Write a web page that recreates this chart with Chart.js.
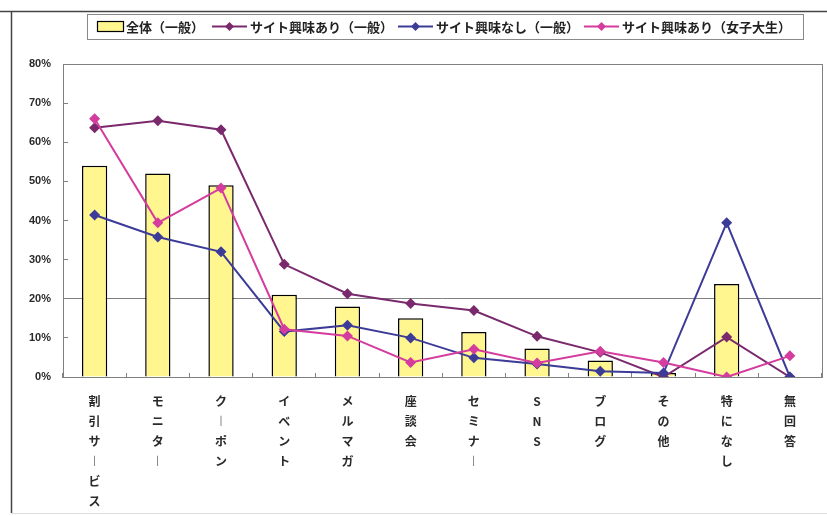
<!DOCTYPE html>
<html>
<head>
<meta charset="utf-8">
<script src="https://cdn.jsdelivr.net/npm/chart.js@4.4.1/dist/chart.umd.min.js"></script>
<style>
    html, body { margin: 0; padding: 0; background: #fff; }
    #wrap { width: 827px; height: 516px; }
</style>
</head>
<body>
<div id="wrap"><canvas id="chart"></canvas></div>
<script>
var categories = ['割引サービス', 'モニター', 'クーポン', 'イベント', 'メルマガ', '座談会', 'セミナー', 'SNS', 'ブログ', 'その他', '特になし', '無回答'];
var seriesNames = ['全体（一般）', 'サイト興味あり（一般）', 'サイト興味なし（一般）', 'サイト興味あり（女子大生）'];
var overall = [54, 52, 49, 21, 18, 15, 11.5, 7.3, 4.2, 1, 23.8, 0];
var interestYes = [63.7, 65.5, 63.2, 28.8, 21.3, 18.8, 17, 10.4, 6.3, 0, 10.2, 0];
var interestNo = [41.4, 35.8, 32, 11.6, 13.2, 10, 4.9, 3.3, 1.5, 1, 39.4, 0];
var students = [66, 39.4, 48.3, 12.2, 10.5, 3.7, 7.1, 3.6, 6.6, 3.7, 0, 5.4];
var yTicks = [0, 10, 20, 30, 40, 50, 60, 70, 80];

var barFill = '#fff68f';
var purple = '#7a2a6c';
var blue = '#3c3c98';
var pink = '#d43c9e';
var jpFont = "'Noto Sans CJK JP', sans-serif";

// page frame (top and left rules of the original figure)
var framePlugin = {
    id: 'frame',
    beforeDraw: function(chart) {
        var ctx = chart.ctx;
        ctx.save();
        ctx.fillStyle = '#fff';
        ctx.fillRect(0, 0, chart.width, chart.height);
        ctx.strokeStyle = '#444';
        ctx.lineWidth = 1.5;
        ctx.beginPath();
        ctx.moveTo(0, 11.5);
        ctx.lineTo(chart.width, 11.5);
        ctx.moveTo(11.5, 11.5);
        ctx.lineTo(11.5, 513);
        ctx.stroke();
        ctx.strokeStyle = '#ddd';
        ctx.lineWidth = 1;
        ctx.beginPath();
        ctx.moveTo(11.5, 513.5);
        ctx.lineTo(chart.width, 513.5);
        ctx.stroke();
        ctx.restore();
    },
    beforeDatasetsDraw: function(chart) {
        var a = chart.chartArea;
        var ctx = chart.ctx;
        ctx.save();
        ctx.strokeStyle = '#808080';
        ctx.lineWidth = 1;
        ctx.strokeRect(Math.round(a.left) + 0.5, Math.round(a.top) + 0.5, Math.round(a.right - a.left), Math.round(a.bottom - a.top));
        ctx.restore();
    }
};

function diamond(ctx, x, y, r, color) {
    ctx.fillStyle = color;
    ctx.beginPath();
    ctx.moveTo(x - r, y);
    ctx.lineTo(x, y - r);
    ctx.lineTo(x + r, y);
    ctx.lineTo(x, y + r);
    ctx.closePath();
    ctx.fill();
}

// boxed legend like the spreadsheet one
var legendPlugin = {
    id: 'boxLegend',
    afterDraw: function(chart) {
        var ctx = chart.ctx;
        var starts = [97, 212, 398, 584];
        var cy = 26.5;
        ctx.save();
        ctx.strokeStyle = '#888';
        ctx.lineWidth = 1;
        ctx.fillStyle = '#fff';
        ctx.fillRect(87.5, 14.5, 716, 25);
        ctx.strokeRect(87.5, 14.5, 716, 25);
        ctx.font = 'bold 13px ' + jpFont;
        ctx.textBaseline = 'middle';
        chart.data.datasets.forEach(function(ds, i) {
            var x = starts[i];
            if (ds.type === 'bar') {
                ctx.fillStyle = ds.backgroundColor;
                ctx.fillRect(x + 0.5, cy - 5, 26, 10);
                ctx.strokeStyle = '#000';
                ctx.lineWidth = 1.2;
                ctx.strokeRect(x + 0.5, cy - 5, 26, 10);
                ctx.fillStyle = '#222';
                ctx.fillText(ds.label, x + 29, cy + 1);
            } else {
                ctx.strokeStyle = ds.borderColor;
                ctx.lineWidth = 2;
                ctx.beginPath();
                ctx.moveTo(x, cy);
                ctx.lineTo(x + 35, cy);
                ctx.stroke();
                diamond(ctx, x + 17.5, cy, 4.5, ds.borderColor);
                ctx.fillStyle = '#222';
                ctx.fillText(ds.label, x + 38, cy + 1);
            }
        });
        ctx.restore();
    }
};

function lineSet(label, data, color, order) {
    return {
        type: 'line',
        label: label,
        data: data,
        borderColor: color,
        backgroundColor: color,
        borderWidth: 2,
        pointStyle: 'rectRot',
        pointRadius: 5.5,
        pointBackgroundColor: color,
        pointBorderColor: color,
        pointBorderWidth: 0,
        tension: 0,
        order: order
    };
}

var ctx = document.getElementById('chart').getContext('2d');
var chart = new Chart(ctx, {
    type: 'bar',
    data: {
        labels: categories,
        datasets: [
            {
                type: 'bar',
                label: seriesNames[0],
                data: overall,
                backgroundColor: barFill,
                borderColor: '#000',
                borderWidth: 1.5,
                barPercentage: 0.8,
                categoryPercentage: 0.5,
                order: 5
            },
            lineSet(seriesNames[1], interestYes, purple, 3),
            lineSet(seriesNames[2], interestNo, blue, 2),
            lineSet(seriesNames[3], students, pink, 1)
        ]
    },
    options: {
        responsive: true,
        maintainAspectRatio: false,
        animation: false,
        layout: { padding: { left: 12, right: 4, top: 64, bottom: 0 } },
        plugins: {
            legend: { display: false },
            tooltip: { enabled: false }
        },
        scales: {
            x: {
                afterFit: function(scale) { scale.height = 139; },
                grid: {
                    offset: true,
                    drawOnChartArea: false,
                    tickLength: -4,
                    tickColor: '#808080'
                },
                border: { color: '#808080' },
                ticks: {
                    autoSkip: false,
                    maxRotation: 0,
                    padding: 18,
                    color: '#2a2a2a',
                    font: { family: jpFont, size: 12, weight: 'bold', lineHeight: '20px' },
                    callback: function(value, index) {
                        return categories[index].split('').map(function(c) { return c === 'ー' ? '︱' : c; });
                    }
                }
            },
            y: {
                min: 0,
                max: 80,
                afterFit: function(scale) { scale.width = 51; },
                afterBuildTicks: function(scale) {
                    scale.ticks = yTicks.map(function(v) { return { value: v }; });
                },
                grid: {
                    tickLength: -5,
                    tickColor: '#808080',
                    color: function(c) { return c.tick && c.tick.value === 20 ? '#808080' : 'rgba(0,0,0,0)'; }
                },
                border: { color: '#808080' },
                ticks: {
                    padding: 17,
                    color: '#2a2a2a',
                    font: { family: "'Liberation Sans', Arial, sans-serif", size: 11, weight: 'bold' },
                    callback: function(v) { return v + '%'; }
                }
            }
        }
    },
    plugins: [framePlugin, legendPlugin]
});
</script>
</body>
</html>
